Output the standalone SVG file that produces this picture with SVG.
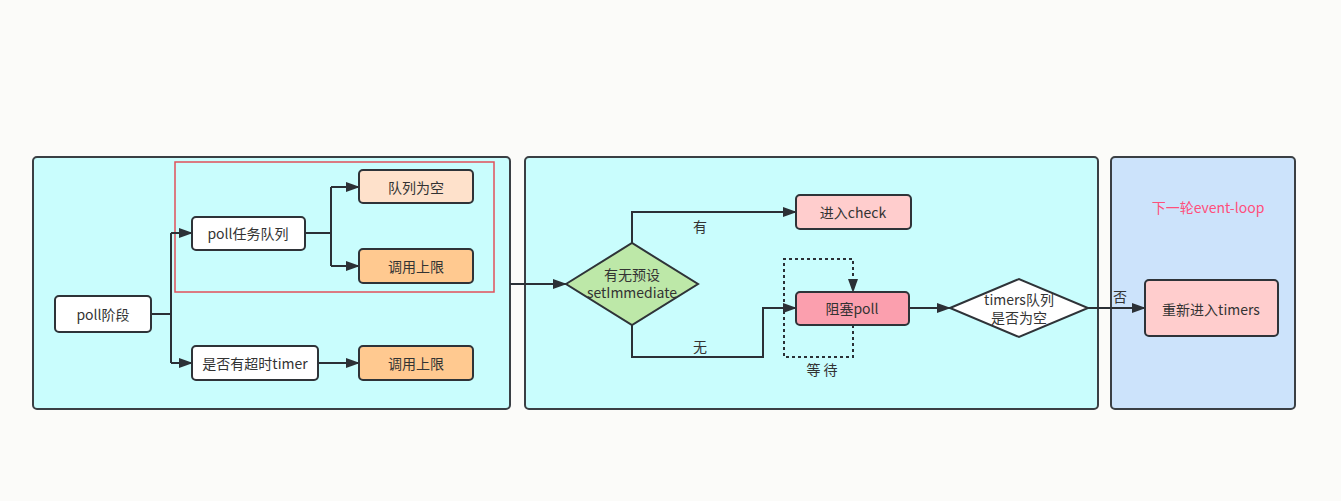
<svg xmlns="http://www.w3.org/2000/svg" width="1341" height="501" viewBox="0 0 1341 501">
<style>
.panel{stroke:#3a3f44;stroke-width:2}
.node{stroke:#2e3338;stroke-width:2}
.t{font-family:"Noto Sans CJK SC","Noto Sans",sans-serif;font-size:14px;fill:#333;text-anchor:middle;dominant-baseline:central}
.c{fill:none;stroke:#2b3036;stroke-width:2}
</style>
<defs>
<marker id="ah" viewBox="0 0 14 10" refX="13" refY="5" markerWidth="14" markerHeight="10" orient="auto" markerUnits="userSpaceOnUse">
<path d="M0,0 L14,5 L0,10 z" fill="#2b3036"/>
</marker>
</defs>
<rect width="1341" height="501" fill="#fbfbf9"/>
<g id="panel-poll"><rect class="panel" x="33" y="157" width="477" height="252" rx="4" fill="#c9fdfd"/></g>
<g id="panel-check"><rect class="panel" x="525" y="157" width="573" height="252" rx="4" fill="#c9fdfd"/></g>
<g id="panel-next"><rect class="panel" x="1111" y="157" width="184" height="252" rx="4" fill="#cce3fb"/></g>
<g id="highlight"><rect x="175" y="162" width="319" height="130" fill="none" stroke="#e0505a" stroke-width="1.5"/></g>
<g id="connectors">
<path class="c" d="M151,314 H171 M171,233 V363"/>
<path class="c" d="M171,233 H192" marker-end="url(#ah)"/>
<path class="c" d="M171,363 H192" marker-end="url(#ah)"/>
<path class="c" d="M305,233 H331 M331,187 V266"/>
<path class="c" d="M331,187 H359" marker-end="url(#ah)"/>
<path class="c" d="M331,266 H359" marker-end="url(#ah)"/>
<path class="c" d="M318,363 H359" marker-end="url(#ah)"/>
<path class="c" d="M510,284 H566" marker-end="url(#ah)"/>
<path class="c" d="M632,243 V212 H796" marker-end="url(#ah)"/>
<path class="c" d="M632,325 V357 H763 V308 H796" marker-end="url(#ah)"/>
<path class="c" d="M853,325 V357 H784 V259 H853 V292" stroke-dasharray="3,3" marker-end="url(#ah)"/>
<path class="c" d="M909,308 H950" marker-end="url(#ah)"/>
<path class="c" d="M1088,308 H1145" marker-end="url(#ah)"/>
<text class="t" x="700" y="226">有</text>
<text class="t" x="700" y="346">无</text>
<text class="t" x="822" y="369">等 待</text>
<text class="t" x="1120" y="296">否</text>
</g>
<g id="n-poll"><rect class="node" x="55" y="296" width="96" height="36" rx="4" fill="#fff"/><text class="t" x="103" y="314">poll阶段</text></g>
<g id="n-queue"><rect class="node" x="192" y="217" width="113" height="33" rx="4" fill="#fff"/><text class="t" x="248" y="233">poll任务队列</text></g>
<g id="n-empty"><rect class="node" x="359" y="170" width="114" height="33" rx="4" fill="#fee1cb"/><text class="t" x="416" y="187">队列为空</text></g>
<g id="n-limit1"><rect class="node" x="359" y="249" width="114" height="34" rx="4" fill="#ffc990"/><text class="t" x="416" y="266">调用上限</text></g>
<g id="n-timer"><rect class="node" x="192" y="346" width="126" height="34" rx="4" fill="#fff"/><text class="t" x="255" y="363">是否有超时timer</text></g>
<g id="n-limit2"><rect class="node" x="359" y="346" width="114" height="34" rx="4" fill="#ffc990"/><text class="t" x="416" y="363">调用上限</text></g>
<g id="n-setimm"><path class="node" d="M566,284 L632,243 L698,284 L632,325 z" fill="#bde8a8"/><text class="t" x="632" y="274">有无预设</text><text class="t" x="632" y="292">setImmediate</text></g>
<g id="n-check"><rect class="node" x="796" y="195" width="115" height="34" rx="4" fill="#ffcdcd"/><text class="t" x="853" y="212">进入check</text></g>
<g id="n-block"><rect class="node" x="796" y="292" width="113" height="33" rx="4" fill="#fb9fae"/><text class="t" x="852" y="308">阻塞poll</text></g>
<g id="n-timers"><path class="node" d="M950,308 L1019,279 L1088,308 L1019,337 z" fill="#fff"/><text class="t" x="1019" y="299">timers队列</text><text class="t" x="1019" y="317">是否为空</text></g>
<g id="n-next"><text class="t" x="1208" y="207" style="fill:#ff4f7b">下一轮event-loop</text></g>
<g id="n-retimers"><rect class="node" x="1145" y="280" width="133" height="56" rx="4" fill="#ffcdcd"/><text class="t" x="1211" y="309">重新进入timers</text></g>
</svg>
